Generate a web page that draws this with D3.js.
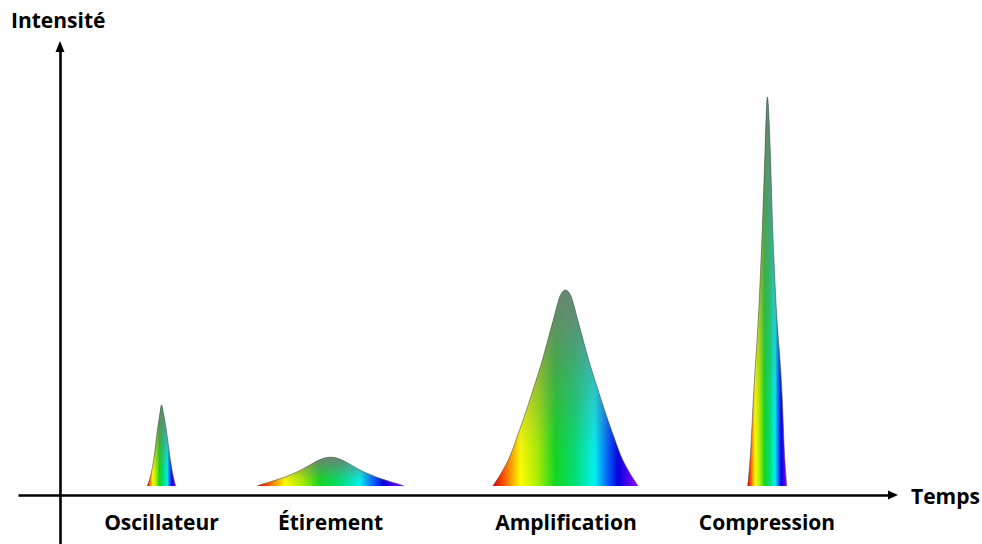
<!DOCTYPE html>
<html><head><meta charset="utf-8">
<script src="https://cdn.jsdelivr.net/npm/d3@7"></script>
<style>
html,body{margin:0;padding:0;background:#fff;}
svg{display:block;}
text{font-family:"Open Sans",Lato,sans-serif;font-weight:bold;fill:#000;}
</style></head>
<body>
<svg id="c" width="982" height="544"></svg>
<script>
// ---- data (time units / intensity units) ----
const pulseNames = ["Oscillateur", "Étirement", "Amplification", "Compression"];
const pulseCenters = [101.5, 270.5, 506, 707];

const oscTime = [87.3, 90.7, 93.3, 97.7, 99.7, 101.5, 103.7, 106, 110.7, 113, 115.7];
const oscIntensity = [0, 2.8, 6.2, 14.9, 18.3, 20.8, 18.3, 14.9, 6.2, 2.8, 0];

const etiTime = [197, 202.5, 210.5, 220.5, 230.5, 238.5, 246.5, 252.5, 258.5, 264.5, 270.5,
                 276.5, 282.5, 288.5, 294.5, 302.5, 310.5, 320.5, 330.5, 338.5, 344];
const etiIntensity = [0, 0.5, 1.1, 1.9, 2.9, 3.8, 4.9, 5.8, 6.6, 7.2, 7.4,
                      7.2, 6.6, 5.8, 4.9, 3.8, 2.9, 1.9, 1.1, 0.5, 0];

const ampTime = [432.8, 442.5, 450, 457.5, 464.5, 471, 477.5, 483.5, 489, 493, 497, 500, 505.5,
                 511, 514, 518, 522, 527.5, 533.5, 540, 546.5, 553.5, 561, 568.5, 578.2];
const ampIntensity = [0, 3.9, 7.7, 12.9, 18.0, 23.1, 28.3, 33.4, 38.6, 42.4, 46.3, 48.8, 50.4,
                      48.8, 46.3, 42.4, 38.6, 33.4, 28.3, 23.1, 18.0, 12.9, 7.7, 3.9, 0];

const comTime = [687.7, 690.7, 693.3, 699.3, 702.7, 705, 707.3, 710.3, 712.3, 715.8, 722.3, 724.3, 726.7];
const comIntensity = [0, 9.3, 22.1, 48.1, 68.9, 85.9, 100, 85.9, 68.9, 48.1, 22.1, 9.3, 0];

const axisLabelX = "Temps";
const axisLabelY = "Intensité";

const spectrumColors = ["#d40000", "#ff4a00", "#ffff00", "#a8f000", "#10d820", "#00e070", "#00f4f4", "#0060ff", "#0000e0", "#9a00ff"];
const spectrumStops =  [0, 0.07, 0.19, 0.31, 0.43, 0.56, 0.70, 0.79, 0.86, 1];

// ---- layout ----
const svg = d3.select("#c");
const x = d3.scaleLinear().domain([-42, 830]).range([18, 890]);
const y = d3.scaleLinear().domain([0, 100]).range([486, 97]);
const axisY = 495;

const defs = svg.append("defs");
const spec = defs.append("linearGradient").attr("id", "spec")
  .attr("x1", 0).attr("x2", 1).attr("y1", 0).attr("y2", 0);
spectrumColors.forEach((c, i) => spec.append("stop").attr("offset", spectrumStops[i]).attr("stop-color", c));

const shade = defs.append("linearGradient").attr("id", "shade")
  .attr("x1", 0).attr("x2", 0).attr("y1", 0).attr("y2", 1);
[[0, 0.88], [0.2, 0.72], [0.5, 0.38], [0.8, 0.08], [1, 0]].forEach(([o, a]) =>
  shade.append("stop").attr("offset", o).attr("stop-color", "#767a76").attr("stop-opacity", a));

const pulses = [
  [oscTime, oscIntensity],
  [etiTime, etiIntensity],
  [ampTime, ampIntensity],
  [comTime, comIntensity]
].map(([t, v]) => t.map((d, i) => ({t: d, v: v[i]})));

const area = d3.area().x(d => x(d.t)).y0(y(0)).y1(d => y(d.v)).curve(d3.curveMonotoneX);
const line = d3.line().x(d => x(d.t)).y(d => y(d.v)).curve(d3.curveMonotoneX);

const g = svg.append("g");
pulses.forEach(p => {
  g.append("path").attr("d", area(p)).attr("fill", "url(#spec)");
  g.append("path").attr("d", area(p)).attr("fill", "url(#shade)");
  g.append("path").attr("d", line(p)).attr("fill", "none")
    .attr("stroke", "#4a4f4a").attr("stroke-width", 0.8).attr("stroke-opacity", 0.7);
});

// axes
const xAxis = d3.axisBottom(x).tickValues([]).tickSizeOuter(0);
svg.append("g").attr("transform", `translate(0,${axisY})`).call(xAxis);
const yAxisScale = d3.scaleLinear().domain([y.invert(544), y.invert(50)]).range([544, 50]);
const yAxis = d3.axisLeft(yAxisScale).tickValues([]).tickSizeOuter(0);
svg.append("g").attr("transform", `translate(${x(0)},0)`).call(yAxis);
svg.selectAll(".domain").attr("stroke", "#000").attr("stroke-width", 2.6);

// arrowheads
const xEnd = x.range()[1];
svg.append("path").attr("d", `M${xEnd - 2},${axisY - 4.5}L${xEnd + 8},${axisY}L${xEnd - 2},${axisY + 4.5}Z`).attr("fill", "#000");
const yTop = yAxisScale.range()[1];
svg.append("path").attr("d", `M${x(0) - 4.5},${yTop + 2}L${x(0)},${yTop - 9}L${x(0) + 4.5},${yTop + 2}Z`).attr("fill", "#000");

// labels
svg.append("text").attr("x", 11).attr("y", 28).attr("font-size", 21).text(axisLabelY);
svg.append("text").attr("x", 911).attr("y", 504).attr("font-size", 21).text(axisLabelX);
svg.selectAll("text.pl").data(pulseNames).enter().append("text").attr("class", "pl")
  .attr("x", (d, i) => x(pulseCenters[i])).attr("y", 530)
  .attr("text-anchor", "middle").attr("font-size", 21).text(d => d);
</script>
</body></html>
